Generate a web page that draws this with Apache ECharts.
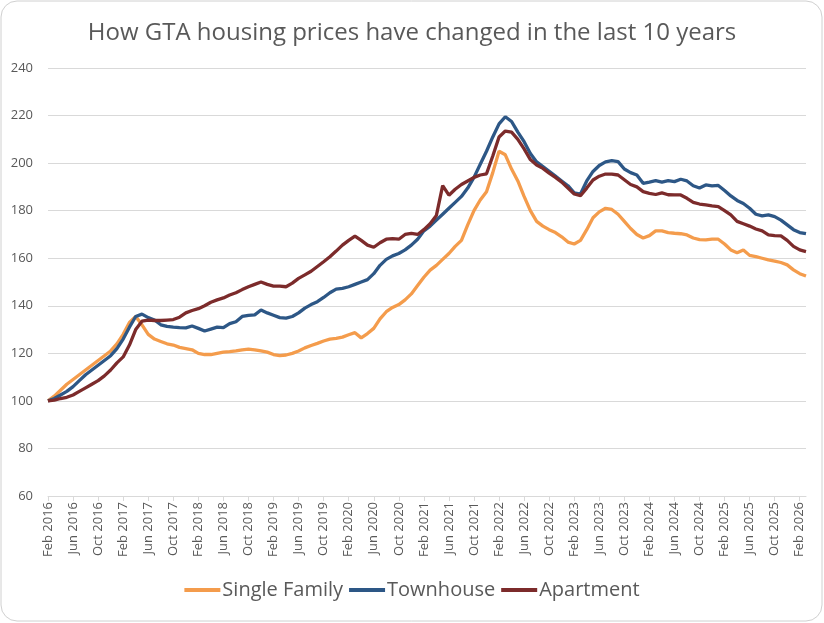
<!DOCTYPE html>
<html>
<head>
<meta charset="utf-8">
<title>GTA housing prices</title>
<script src="https://cdn.jsdelivr.net/npm/echarts@6/dist/echarts.min.js"></script>
<style>
  html, body { margin: 0; padding: 0; background: #fff; }
  #chart { width: 824px; height: 623px; }
</style>
</head>
<body>
<div id="chart"></div>
<script>
// month labels, Feb 2016 .. Mar 2026
const monthNames = ["Jan", "Feb", "Mar", "Apr", "May", "Jun", "Jul", "Aug", "Sep", "Oct", "Nov", "Dec"];
const startYear = 2016;
const startMonth = 1; // Feb
const monthCount = 122;

const yTicks = [60, 80, 100, 120, 140, 160, 180, 200, 220, 240];

// index values (Feb 2016 = 100)
const singleFamily = [
  100, 102, 104.5, 107, 109, 111, 113, 115, 117, 119,
  121, 124, 128, 133, 135.5, 132, 128, 126, 125, 124,
  123.5, 122.5, 122, 121.5, 120, 119.5, 119.5, 120, 120.5, 120.7,
  121, 121.5, 121.8, 121.5, 121, 120.5, 119.5, 119, 119.3, 120,
  121, 122.3, 123.3, 124.2, 125.2, 126, 126.3, 126.8, 127.8, 128.7,
  126.5, 128.3, 130.5, 134.5, 137.5, 139.3, 140.5, 142.5, 145, 148.5,
  152, 155, 157, 159.5, 162, 165, 167.5, 174, 180, 184.5,
  188, 196, 205, 203.5, 197.5, 192.5, 186, 180, 175.5, 173.5,
  172, 170.8, 169, 166.8, 166, 167.5, 172, 177, 179.5, 181,
  180.5, 178.5, 175.5, 172.5, 170, 168.5, 169.5, 171.5, 171.5, 170.8,
  170.5, 170.3, 169.8, 168.5, 167.8, 167.7, 168, 168, 166, 163.5,
  162.3, 163.5, 161.2, 160.7, 160, 159.3, 158.8, 158.2, 157.2, 155.1,
  153.5, 152.5
];

const townhouse = [
  100, 101, 102.5, 104, 106, 108.5, 111, 113, 115, 117,
  119, 122, 126, 131, 135.5, 136.5, 135, 134, 132, 131.3,
  131, 130.8, 130.7, 131.5, 130.5, 129.4, 130.2, 131, 130.8, 132.5,
  133.3, 135.5, 136, 136.2, 138.2, 137, 136, 135, 134.8, 135.5,
  137, 139, 140.5, 141.7, 143.5, 145.5, 147, 147.3, 148, 149,
  150, 151, 153.5, 157, 159.5, 161, 162, 163.5, 165.5, 168,
  171.5, 173.5, 176, 178.5, 181, 183.5, 186, 189.5, 194, 199.5,
  205, 211, 216.5, 219.5, 217.5, 213, 209, 204, 200.5, 198.5,
  196.5, 194.5, 192.5, 190.5, 187.5, 187, 192.5, 196.5, 199, 200.5,
  201, 200.6, 197.5, 196, 195, 191.5, 192, 192.6, 192, 192.6,
  192.2, 193.2, 192.5, 190.5, 189.5, 190.8, 190.4, 190.6, 188.5, 186.2,
  184.3, 183, 181, 178.5, 177.8, 178.2, 177.5, 176, 174, 172,
  170.8, 170.3
];

const apartment = [
  100, 100.3, 101, 101.5, 102.5, 104, 105.5, 107, 108.5, 110.5,
  113, 116, 118.5, 123.5, 130, 133.5, 134, 133.8, 133.8, 134,
  134.2, 135.2, 137, 138, 138.8, 140, 141.5, 142.5, 143.3, 144.5,
  145.5, 146.8, 148, 149, 150, 149, 148.3, 148.3, 148, 149.5,
  151.5, 153, 154.5, 156.5, 158.5, 160.6, 163, 165.5, 167.5, 169.3,
  167.5, 165.5, 164.6, 166.5, 168, 168.2, 168, 170, 170.5, 170,
  172, 174.5, 178, 190.5, 186.5, 189, 191, 192.5, 194, 195,
  195.5, 203, 211, 213.5, 213, 210, 206, 201.5, 199.2, 197.8,
  195.8, 194, 192, 189.5, 187, 186.3, 189.5, 192.9, 194.5, 195.4,
  195.4, 195, 193, 191, 190, 188, 187.3, 186.8, 187.5, 186.7,
  186.6, 186.6, 185.2, 183.5, 182.8, 182.4, 182, 181.7, 180, 178.2,
  175.5, 174.5, 173.5, 172.3, 171.5, 169.8, 169.5, 169.4, 167.5, 165,
  163.5, 162.8
];

const categories = [];
for (let i = 0; i < monthCount; i++) {
  const m = (startMonth + i) % 12;
  const y = startYear + Math.floor((startMonth + i) / 12);
  categories.push(monthNames[m] + " " + y);
}

const fontFamily = "'Open Sans', 'Liberation Sans', sans-serif";
const textColor = "#595959";
const gridColor = "#d9d9d9";

const chart = echarts.init(document.getElementById("chart"));

function lineSeries(name, data, color) {
  return {
    name: name,
    type: "line",
    data: data,
    showSymbol: false,
    symbol: "none",
    smooth: false,
    lineStyle: { width: 3.3, color: color },
    itemStyle: { color: color }
  };
}

chart.setOption({
  backgroundColor: "#fff",
  animation: false,
  title: {
    text: "How GTA housing prices have changed in the last 10 years",
    left: "center",
    top: 16,
    textStyle: {
      fontFamily: fontFamily,
      fontWeight: "normal",
      fontSize: 24,
      color: textColor
    }
  },
  graphic: [{
    type: "rect",
    shape: { x: 1, y: 1, width: 821, height: 620, r: 16 },
    style: { fill: "none", stroke: "#d0d0d0", lineWidth: 1 },
    silent: true,
    z: -1
  }],
  legend: {
    bottom: 18,
    left: "center",
    icon: "rect",
    itemWidth: 36,
    itemHeight: 4,
    itemGap: 6,
    textStyle: { fontFamily: fontFamily, fontSize: 20, color: textColor, padding: [0, 0, 0, -3] },
    data: ["Single Family", "Townhouse", "Apartment"]
  },
  grid: { left: 48, right: 18, top: 68, bottom: 127, containLabel: false },
  xAxis: {
    type: "category",
    data: categories,
    boundaryGap: false,
    axisLine: { lineStyle: { color: gridColor, width: 1 } },
    axisTick: { show: true, interval: 3, length: 5, lineStyle: { color: gridColor } },
    axisLabel: {
      interval: 3,
      rotate: 90,
      margin: 6,
      fontFamily: fontFamily,
      fontSize: 13,
      color: textColor
    },
    splitLine: { show: false }
  },
  yAxis: {
    type: "value",
    min: yTicks[0],
    max: yTicks[yTicks.length - 1],
    interval: 20,
    axisLine: { show: false },
    axisTick: { show: false },
    axisLabel: { margin: 15, fontFamily: fontFamily, fontSize: 13, color: textColor },
    splitLine: { lineStyle: { color: gridColor, width: 1 } }
  },
  series: [
    lineSeries("Single Family", singleFamily, "#F49C4C"),
    lineSeries("Townhouse", townhouse, "#2D5786"),
    lineSeries("Apartment", apartment, "#7C2B2B")
  ]
});
</script>
</body>
</html>
